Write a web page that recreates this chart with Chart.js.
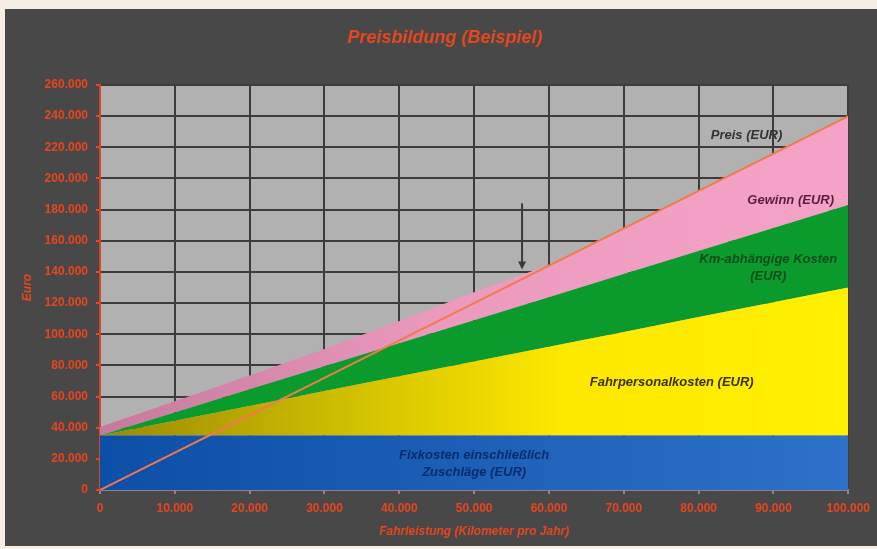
<!DOCTYPE html>
<html>
<head>
<meta charset="utf-8">
<script src="https://cdn.jsdelivr.net/npm/chart.js@4/dist/chart.umd.min.js"></script>
<style>
  html, body { margin: 0; padding: 0; background: #f7efe6; }
  #wrap { width: 877px; height: 549px; position: relative; }
</style>
</head>
<body>
<div id="wrap"><canvas id="c" width="877" height="549"></canvas></div>
<script>
// Jahresfahrleistung in km
const kilometer = [0, 10000, 20000, 30000, 40000, 50000, 60000, 70000, 80000, 90000, 100000];
// Kostenbestandteile (EUR), gestapelt
const fixkosten = [35000, 35000, 35000, 35000, 35000, 35000, 35000, 35000, 35000, 35000, 35000];
const fahrpersonalkosten = [0, 9500, 19000, 28500, 38000, 47500, 57000, 66500, 76000, 85500, 95000];
const kmKosten = [0, 5300, 10600, 15900, 21200, 26500, 31800, 37100, 42400, 47700, 53000];
const gewinn = [5500, 7200, 8900, 11100, 14300, 18000, 20700, 29400, 38600, 47800, 57000];
// Preis (EUR)
const preis = [0, 24000, 48000, 72000, 96000, 120000, 144000, 168000, 192000, 216000, 240000];

// Achsenbereiche
const xTicks = { min: 0, max: 100000, step: 10000 };
const yTicks = { min: 0, max: 260000, step: 20000 };

// Pfeil zum Schnittpunkt (km, EUR von / bis)
const pfeilKm = 56400;
const pfeilVon = 184000;
const pfeilBis = 141500;

// Beschriftungen der Flächen
const flaechenText = [
  { lines: ['Preis (EUR)'], km: 86400, eur: 227900, color: '#333333' },
  { lines: ['Gewinn (EUR)'], km: 92300, eur: 186200, color: '#5a1d3d' },
  { lines: ['Km-abhängige Kosten', '(EUR)'], km: 89300, eur: 148300, color: '#0d4d1c' },
  { lines: ['Fahrpersonalkosten (EUR)'], km: 76400, eur: 69300, color: '#3a3200' },
  { lines: ['Fixkosten einschließlich', 'Zuschläge (EUR)'], km: 50000, eur: 22500, color: '#0b2a6c' }
];

const ORANGE = '#e8461e';
const fmt = v => String(v).replace(/\B(?=(\d{3})+(?!\d))/g, '.');
const pts = arr => arr.map((v, i) => ({ x: kilometer[i], y: v }));

function hGradient(ctx, stops) {
  const a = ctx.chart.chartArea;
  if (!a) return stops[0][1];
  const g = ctx.chart.ctx.createLinearGradient(a.left, 0, a.right, 0);
  stops.forEach(s => g.addColorStop(s[0], s[1]));
  return g;
}

const hintergrund = {
  id: 'hintergrund',
  beforeDraw(chart) {
    const c = chart.ctx, a = chart.chartArea;
    c.save();
    c.fillStyle = '#f7efe6';
    c.fillRect(0, 0, chart.width, chart.height);
    c.fillStyle = '#484848';
    c.fillRect(5, 9, chart.width - 5, chart.height - 12);
    c.fillStyle = '#b1b1b1';
    c.fillRect(a.left, a.top, a.right - a.left, a.bottom - a.top);
    c.restore();
  }
};

const beschriftung = {
  id: 'beschriftung',
  afterDraw(chart) {
    const c = chart.ctx, xs = chart.scales.x, ys = chart.scales.y;
    c.save();
    // Titel
    c.fillStyle = ORANGE;
    c.font = 'italic bold 18px "Liberation Sans", Arial, sans-serif';
    c.textAlign = 'center';
    c.textBaseline = 'middle';
    c.fillText('Preisbildung (Beispiel)', 445, 38);

    // Flächenbeschriftungen
    c.font = 'italic bold 13px "Liberation Sans", Arial, sans-serif';
    flaechenText.forEach(t => {
      const x = xs.getPixelForValue(t.km);
      const y = ys.getPixelForValue(t.eur);
      c.fillStyle = t.color;
      t.lines.forEach((l, i) => c.fillText(l, x, y + i * 17));
    });

    // Pfeil
    const px = xs.getPixelForValue(pfeilKm);
    const y1 = ys.getPixelForValue(pfeilVon);
    const y2 = ys.getPixelForValue(pfeilBis);
    c.strokeStyle = '#3a3a3a';
    c.fillStyle = '#3a3a3a';
    c.lineWidth = 2;
    c.beginPath();
    c.moveTo(px, y1);
    c.lineTo(px, y2 - 7);
    c.stroke();
    c.beginPath();
    c.moveTo(px - 4, y2 - 8);
    c.lineTo(px + 4, y2 - 8);
    c.lineTo(px, y2);
    c.closePath();
    c.fill();
    c.restore();
  }
};

new Chart(document.getElementById('c'), {
  type: 'line',
  data: {
    datasets: [
      {
        label: 'Preis (EUR)', data: pts(preis), stack: 'preis', order: 0,
        borderColor: '#f07a4c', borderWidth: 2, fill: false, pointRadius: 0, tension: 0
      },
      {
        label: 'Fixkosten einschließlich Zuschläge (EUR)', data: pts(fixkosten), stack: 'kosten', order: 1,
        borderWidth: 0, pointRadius: 0, fill: 'origin', tension: 0,
        backgroundColor: ctx => hGradient(ctx, [[0, '#0d4ea6'], [1, '#2d71c9']])
      },
      {
        label: 'Fahrpersonalkosten (EUR)', data: pts(fahrpersonalkosten), stack: 'kosten', order: 1,
        borderWidth: 0, pointRadius: 0, fill: '-1', tension: 0,
        backgroundColor: ctx => hGradient(ctx, [[0, '#9a8806'], [0.35, '#d3c200'], [0.62, '#fde800'], [1, '#fff000']])
      },
      {
        label: 'Km-abhängige Kosten (EUR)', data: pts(kmKosten), stack: 'kosten', order: 1,
        borderWidth: 0, pointRadius: 0, fill: '-1', tension: 0,
        backgroundColor: '#0b9b2d'
      },
      {
        label: 'Gewinn (EUR)', data: pts(gewinn), stack: 'kosten', order: 1,
        borderWidth: 0, pointRadius: 0, fill: '-1', tension: 0,
        backgroundColor: ctx => hGradient(ctx, [[0, '#c6789d'], [0.45, '#ec99be'], [1, '#f4a3c6']])
      }
    ]
  },
  options: {
    responsive: false,
    animation: false,
    layout: { padding: { left: 5, right: 27, top: 85, bottom: 10 } },
    plugins: { legend: { display: false }, tooltip: { enabled: false }, title: { display: false } },
    scales: {
      x: {
        type: 'linear', min: xTicks.min, max: xTicks.max,
        afterFit: s => { s.height = 49; },
        ticks: {
          stepSize: xTicks.step, color: ORANGE, padding: 7, maxRotation: 0,
          font: { family: '"Liberation Sans", Arial, sans-serif', size: 12, weight: 'bold' },
          callback: v => fmt(v)
        },
        grid: { color: '#3c3c3c', lineWidth: 2, tickColor: '#b07a70', tickLength: 4 },
        border: { color: '#8c8296', width: 2 },
        title: {
          display: true, text: 'Fahrleistung (Kilometer pro Jahr)', color: ORANGE,
          padding: { top: 0, bottom: 0 },
          font: { family: '"Liberation Sans", Arial, sans-serif', size: 12, weight: 'bold', style: 'italic' }
        }
      },
      y: {
        stacked: true, min: yTicks.min, max: yTicks.max,
        afterFit: s => { s.width = 95; },
        ticks: {
          stepSize: yTicks.step, color: ORANGE, padding: 8,
          font: { family: '"Liberation Sans", Arial, sans-serif', size: 12, weight: 'bold' },
          callback: v => fmt(v)
        },
        grid: { color: '#3c3c3c', lineWidth: 2, tickColor: ORANGE, tickLength: 4 },
        border: { color: '#d0472a', width: 2 },
        title: {
          display: true, text: 'Euro', color: ORANGE,
          padding: { top: 15, bottom: 0 },
          font: { family: '"Liberation Sans", Arial, sans-serif', size: 12, weight: 'bold', style: 'italic' }
        }
      }
    }
  },
  plugins: [hintergrund, beschriftung]
});
</script>
</body>
</html>
